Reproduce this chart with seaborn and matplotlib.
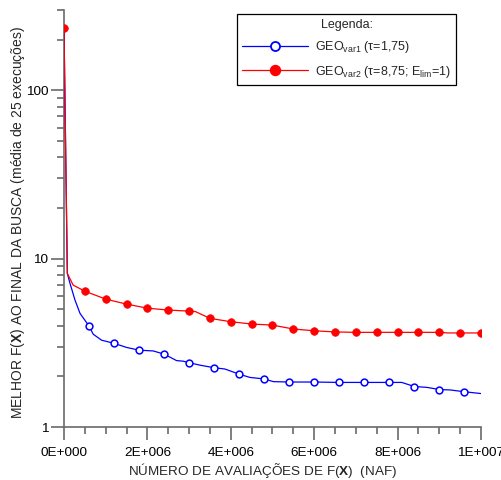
import numpy as np
import pandas as pd
import matplotlib
matplotlib.use("Agg")
import matplotlib.pyplot as plt
from matplotlib.lines import Line2D
from matplotlib.ticker import FixedLocator, LogLocator, NullFormatter, FixedFormatter
import seaborn as sns

# ---- data (NAF in units of evaluations) ----
blue_line_x = [0, 0.08, 0.144, 0.264, 0.384, 0.6, 0.7, 0.9, 1.2, 1.5, 1.8, 2.14, 2.4, 2.7, 2.86,
               3.0, 3.26, 3.6, 3.86, 4.2, 4.46, 4.8, 5.02, 5.4, 6.0, 6.6, 7.2, 7.8, 8.1, 8.4,
               8.7, 9.0, 9.26, 9.6, 10.0]
blue_line_y = [233, 8.17, 7.13, 5.67, 4.73, 3.98, 3.56, 3.28, 3.14, 2.97, 2.86, 2.83, 2.71, 2.48, 2.46,
               2.41, 2.33, 2.25, 2.21, 2.06, 1.97, 1.93, 1.86, 1.85, 1.85, 1.84, 1.84, 1.84, 1.84, 1.74,
               1.72, 1.67, 1.66, 1.62, 1.58]
blue_mark_x = [0.6, 1.2, 1.8, 2.4, 3.0, 3.6, 4.2, 4.8, 5.4, 6.0, 6.6, 7.2, 7.8, 8.4, 9.0, 9.6]
blue_mark_y = [3.98, 3.14, 2.86, 2.71, 2.41, 2.25, 2.06, 1.93, 1.85, 1.85, 1.84, 1.84, 1.84, 1.74, 1.67, 1.62]

red_line_x = [0, 0.08, 0.22, 0.5, 1.0, 1.5, 2.0, 2.5, 3.0, 3.15, 3.5, 4.0, 4.5, 5.0, 5.5, 6.0,
              6.5, 7.0, 8.0, 9.0, 9.2, 9.5, 10.0]
red_line_y = [233, 8.17, 6.96, 6.41, 5.75, 5.37, 5.08, 4.95, 4.88, 4.85, 4.42, 4.22, 4.09, 4.03, 3.82, 3.73,
              3.67, 3.65, 3.65, 3.65, 3.62, 3.62, 3.62]
red_mark_x = [0, 0.5, 1.0, 1.5, 2.0, 2.5, 3.0, 3.5, 4.0, 4.5, 5.0, 5.5, 6.0, 6.5, 7.0, 7.5, 8.0,
              8.5, 9.0, 9.5, 10.0]
red_mark_y = [233, 6.41, 5.75, 5.37, 5.08, 4.95, 4.88, 4.42, 4.22, 4.09, 4.03, 3.82, 3.73, 3.67, 3.65,
              3.65, 3.65, 3.65, 3.65, 3.62, 3.63]

x_tick_vals = [0, 2e6, 4e6, 6e6, 8e6, 1e7]
x_tick_labels = ["0E+000", "2E+006", "4E+006", "6E+006", "8E+006", "1E+007"]
label_blue = "GEO$_{\\mathrm{var1}}$ (τ=1,75)"
label_red = "GEO$_{\\mathrm{var2}}$ (τ=8,75; E$_{\\mathrm{lim}}$=1)"

scale = 1e6

sns.set_style("ticks")
plt.rcParams["font.family"] = ["Liberation Sans", "DejaVu Sans"]
plt.rcParams["mathtext.fontset"] = "custom"
plt.rcParams["mathtext.rm"] = "Liberation Sans"
plt.rcParams["mathtext.it"] = "Liberation Sans:italic"
plt.rcParams["mathtext.bf"] = "Liberation Sans:bold"

fig = plt.figure(figsize=(5.02, 4.80), dpi=100)
W, H = 502, 480
ax = fig.add_axes([64 / W, 1 - 427 / H, (481 - 64) / W, (427 - 10) / H])

blue = "#0000ff"
red = "#ff0000"

bl = pd.DataFrame({"x": np.array(blue_line_x) * scale, "y": blue_line_y})
bm = pd.DataFrame({"x": np.array(blue_mark_x) * scale, "y": blue_mark_y})
rl = pd.DataFrame({"x": np.array(red_line_x) * scale, "y": red_line_y})
rm = pd.DataFrame({"x": np.array(red_mark_x) * scale, "y": red_mark_y})

sns.lineplot(data=bl, x="x", y="y", ax=ax, color=blue, lw=0.9, estimator=None, sort=False, zorder=3)
sns.scatterplot(data=bm, x="x", y="y", ax=ax, s=24, marker="o", facecolor="white",
                edgecolor=blue, linewidth=1.1, zorder=4)
sns.lineplot(data=rl, x="x", y="y", ax=ax, color=red, lw=0.9, estimator=None, sort=False, zorder=5)
sns.scatterplot(data=rm, x="x", y="y", ax=ax, s=30, marker="o", color=red,
                edgecolor=red, linewidth=0.5, zorder=6)

ax.set_yscale("log")
ax.set_xlim(0, 1e7)
ax.set_ylim(1, 300)
ax.set_xlabel("")
ax.set_ylabel("")

ax.xaxis.set_major_locator(FixedLocator(x_tick_vals))
ax.xaxis.set_major_formatter(FixedFormatter(x_tick_labels))
ax.xaxis.set_minor_locator(FixedLocator(np.arange(0, 1e7 + 1, 5e5)))
ax.yaxis.set_major_locator(FixedLocator([1, 10, 100]))
ax.yaxis.set_major_formatter(FixedFormatter(["1", "10", "100"]))
ax.yaxis.set_minor_locator(LogLocator(base=10, subs=np.arange(2, 10)))
ax.yaxis.set_minor_formatter(NullFormatter())

spine_col = "#6a6a6a"
for s in ["top", "right"]:
    ax.spines[s].set_visible(False)
for s in ["left", "bottom"]:
    ax.spines[s].set_color(spine_col)
    ax.spines[s].set_linewidth(1.2)

ax.tick_params(axis="both", which="both", bottom=True, left=True, top=False, right=False)
ax.tick_params(axis="both", which="major", direction="out", length=9.4, width=1.2,
               color=spine_col, labelsize=9.7, labelcolor="black")
ax.tick_params(axis="both", which="minor", direction="out", length=5, width=1.2, color=spine_col)
ax.tick_params(axis="x", which="major", pad=5)
ax.tick_params(axis="y", which="major", pad=2)
ax.set_facecolor("white")

fig.text(263 / W, 1 - 470 / H, "NÚMERO DE AVALIAÇÕES DE F($\\mathbf{X}$)  (NAF)",
         ha="center", va="center", fontsize=9.7)
fig.text(18 / W, 1 - 223 / H, "MELHOR F($\\mathbf{X}$) AO FINAL DA BUSCA (média de 25 execuções)",
         ha="center", va="center", rotation=90, fontsize=10.0)

handles = [
    Line2D([], [], color=blue, lw=0.9, marker="o", markersize=6.5, markerfacecolor="white",
           markeredgecolor=blue, markeredgewidth=1.3),
    Line2D([], [], color=red, lw=0.9, marker="o", markersize=7.2, markerfacecolor=red,
           markeredgecolor=red),
]
leg = fig.legend(handles, [label_blue, label_red], title="Legenda:", loc="upper left",
                 bbox_to_anchor=(237 / W, 1 - 14 / H), bbox_transform=fig.transFigure,
                 fontsize=9, title_fontsize=9, frameon=True, fancybox=False,
                 edgecolor="black", framealpha=1, handlelength=5.3, handletextpad=0.5,
                 borderpad=0.42, labelspacing=0.65, borderaxespad=0)
leg.get_frame().set_linewidth(0.9)

fig.savefig("out.png", dpi=100)
